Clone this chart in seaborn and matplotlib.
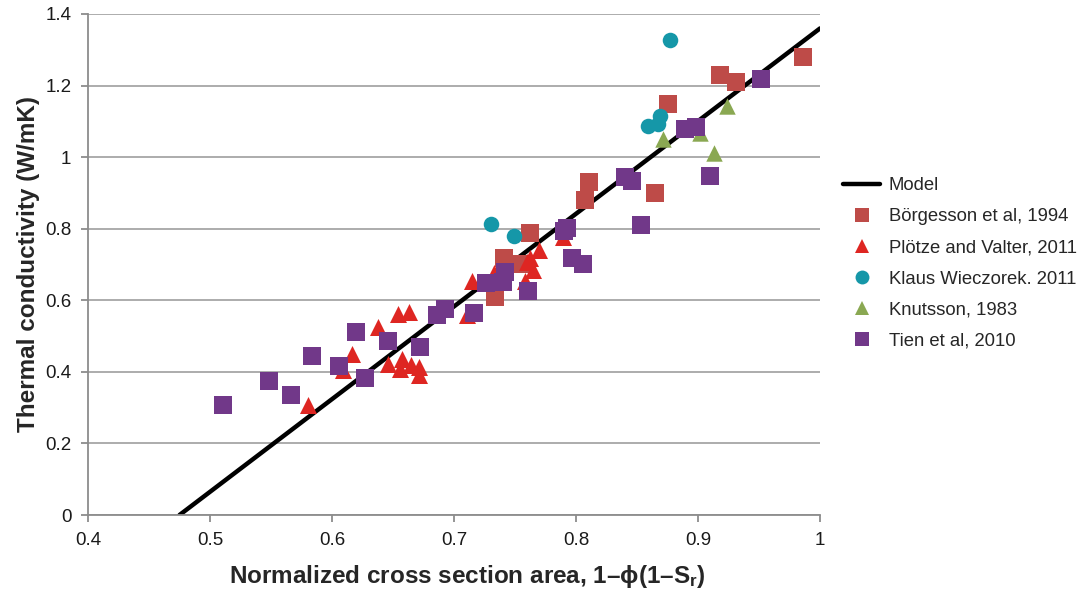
import numpy as np
import pandas as pd
import matplotlib
matplotlib.use("Agg")
import matplotlib.pyplot as plt
from matplotlib.lines import Line2D
import seaborn as sns

# Measured thermal conductivity vs. normalized cross-section area
borgesson_x = [0.986, 0.918, 0.931, 0.875, 0.811, 0.807, 0.865, 0.762, 0.741, 0.754, 0.734]
borgesson_y = [1.279, 1.229, 1.209, 1.148, 0.930, 0.880, 0.899, 0.788, 0.718, 0.701, 0.609]

plotze_x = [0.580, 0.609, 0.616, 0.638, 0.654, 0.663, 0.646, 0.657, 0.656, 0.665, 0.671,
            0.671, 0.715, 0.711, 0.733, 0.762, 0.770, 0.765, 0.758, 0.789, 0.760]
plotze_y = [0.307, 0.405, 0.450, 0.525, 0.561, 0.567, 0.422, 0.436, 0.408, 0.419, 0.413,
            0.391, 0.654, 0.559, 0.676, 0.718, 0.740, 0.684, 0.654, 0.777, 0.707]

klaus_x = [0.877, 0.869, 0.867, 0.859, 0.730, 0.749]
klaus_y = [1.327, 1.115, 1.092, 1.087, 0.813, 0.779]

knutsson_x = [0.924, 0.871, 0.913, 0.902]
knutsson_y = [1.142, 1.050, 1.011, 1.067]

tien_x = [0.511, 0.548, 0.566, 0.584, 0.606, 0.620, 0.627, 0.646, 0.672, 0.686, 0.693,
          0.716, 0.726, 0.740, 0.742, 0.761, 0.793, 0.790, 0.797, 0.806, 0.853, 0.840,
          0.846, 0.889, 0.898, 0.910, 0.952]
tien_y = [0.307, 0.374, 0.335, 0.444, 0.416, 0.511, 0.383, 0.486, 0.469, 0.559, 0.575,
          0.564, 0.648, 0.651, 0.679, 0.626, 0.802, 0.793, 0.718, 0.701, 0.810, 0.944,
          0.933, 1.078, 1.084, 0.947, 1.218]

# Model: linear in the normalized area
model_x = [0.475, 1.0]
model_slope = 2.59
model_x0 = 0.475

series_names = ["Börgesson et al, 1994", "Plötze and Valter, 2011",
                "Klaus Wieczorek. 2011", "Knutsson, 1983", "Tien et al, 2010"]
series_colors = ["#BE4B48", "#DE2622", "#1597A8", "#8AA852", "#713889"]
series_markers = ["s", "^", "o", "^", "s"]
series_sizes = [150, 150, 125, 140, 170]
series_data = [(borgesson_x, borgesson_y), (plotze_x, plotze_y), (klaus_x, klaus_y),
               (knutsson_x, knutsson_y), (tien_x, tien_y)]

sns.set_theme(style="white")
plt.rcParams["font.family"] = ["Liberation Sans", "DejaVu Sans"]
plt.rcParams["mathtext.fontset"] = "custom"
plt.rcParams["mathtext.bf"] = "Liberation Sans:bold"
plt.rcParams["mathtext.rm"] = "Liberation Sans"

fig = plt.figure(figsize=(10.82, 5.90), dpi=100)
ax = fig.add_axes([88 / 1082, 1 - 515 / 590, (820 - 88) / 1082, (515 - 14) / 590])

ax.set_xlim(0.4, 1.0)
ax.set_ylim(0, 1.4)
ax.set_yticks(np.arange(0, 1.41, 0.2))
ax.set_xticks(np.arange(0.4, 1.01, 0.1))
ax.set_yticklabels(["0", "0.2", "0.4", "0.6", "0.8", "1", "1.2", "1.4"])
ax.set_xticklabels(["0.4", "0.5", "0.6", "0.7", "0.8", "0.9", "1"])
ax.grid(axis="y", color="#A6A6A6", linewidth=1.3)
ax.set_axisbelow(True)

for side in ["top", "right"]:
    ax.spines[side].set_visible(False)
for side in ["left", "bottom"]:
    ax.spines[side].set_color("#8C8C8C")
    ax.spines[side].set_linewidth(1.3)
ax.tick_params(axis="both", which="both", direction="out", length=5, width=1.3,
               color="#8C8C8C", labelsize=13.5, labelcolor="#1A1A1A",
               left=True, bottom=True, pad=7)

model_df = pd.DataFrame({"x": model_x})
model_df["y"] = model_slope * (model_df["x"] - model_x0)
sns.lineplot(data=model_df, x="x", y="y", ax=ax, color="black", linewidth=3.2,
             legend=False, zorder=2)

for name, (xs, ys), col, mk, sz in zip(series_names, series_data, series_colors,
                                        series_markers, series_sizes):
    df = pd.DataFrame({"x": xs, "y": ys})
    sns.scatterplot(data=df, x="x", y="y", ax=ax, color=col, marker=mk, s=sz,
                    linewidth=0, legend=False, zorder=3)

ax.set_ylabel("Thermal conductivity (W/mK)", fontsize=17.5, fontweight="bold", labelpad=4)
ax.set_xlabel(r"Normalized cross section area, 1–ϕ(1–$\mathbf{S_r}$)", fontsize=17.5,
              fontweight="bold", labelpad=10)
ax.xaxis.label.set_x(0.518)

handles = [Line2D([0], [0], color="black", linewidth=3.2, label="Model")]
for name, col, mk in zip(series_names, series_colors, series_markers):
    handles.append(Line2D([0], [0], linestyle="none", marker=mk, color=col,
                          markersize=10, markeredgewidth=0, label=name))
fig.legend(handles=handles, loc="upper left", bbox_to_anchor=(836 / 1082, 1 - 170 / 590),
           frameon=False, fontsize=13.3, handlelength=2.0, handletextpad=0.45,
           labelspacing=0.76, borderaxespad=0)

fig.savefig("out.png", dpi=100)
